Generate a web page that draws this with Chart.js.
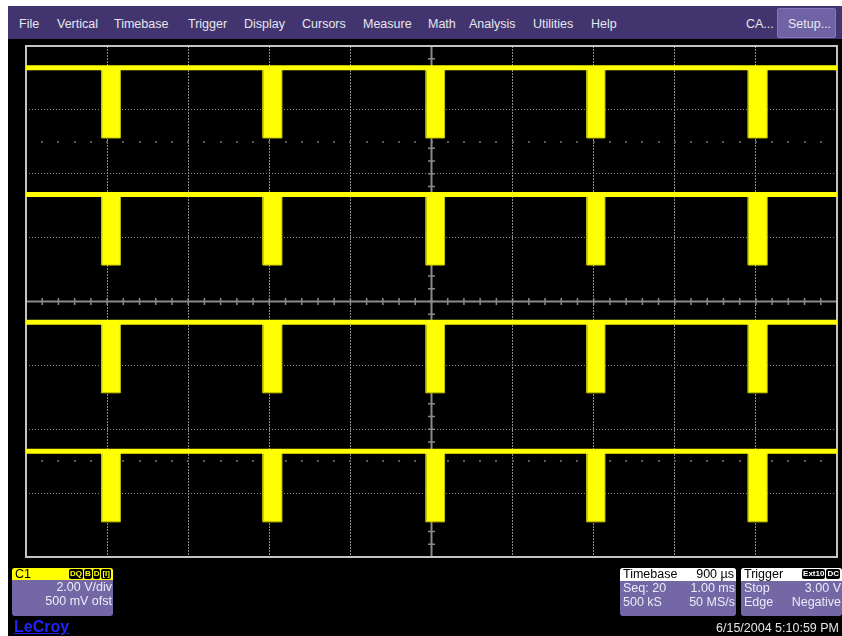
<!DOCTYPE html>
<html>
<head>
<meta charset="utf-8">
<script src="https://cdn.jsdelivr.net/npm/chart.js@4.4.1/dist/chart.umd.min.js"></script>
<style>
html,body{margin:0;padding:0;background:#fff;}
body{width:842px;height:636px;position:relative;overflow:hidden;font-family:"Liberation Sans",Arial,sans-serif;}
#screen{position:absolute;left:8px;top:6px;width:834px;height:630px;background:#000;}
#menu{position:absolute;left:8px;top:6px;width:834px;height:33px;background:#42346f;}
.mi{position:absolute;top:17px;font-size:12.5px;line-height:14px;color:#e6e6ee;white-space:nowrap;}
#setup{position:absolute;left:777px;top:8px;width:59px;height:30px;background:#6f63a5;border:1px solid #8478b8;box-sizing:border-box;border-radius:2px;}
#scope{position:absolute;left:8px;top:39px;}
.box{position:absolute;top:568px;height:48px;background:#7367a6;border-radius:3px;overflow:hidden;font-size:12.5px;}
.hdr{height:13px;line-height:13px;display:flex;justify-content:space-between;padding:0 2px 0 3px;color:#000;}
.row{height:12.5px;line-height:13px;display:flex;justify-content:space-between;padding:0 1px 0 3px;color:#ecebf6;}
.ic{display:inline-block;background:#000;border-radius:2px;font-size:8px;line-height:10px;height:10px;padding:0 1px;margin-left:1px;vertical-align:top;margin-top:1px;font-weight:bold;}
</style>
</head>
<body>
<div id="screen"></div>
<div id="menu"></div>
<span class="mi" style="left:19px">File</span>
<span class="mi" style="left:57px">Vertical</span>
<span class="mi" style="left:114px">Timebase</span>
<span class="mi" style="left:188px">Trigger</span>
<span class="mi" style="left:244px">Display</span>
<span class="mi" style="left:302px">Cursors</span>
<span class="mi" style="left:363px">Measure</span>
<span class="mi" style="left:428px">Math</span>
<span class="mi" style="left:469px">Analysis</span>
<span class="mi" style="left:533px">Utilities</span>
<span class="mi" style="left:591px">Help</span>
<span class="mi" style="left:746px">CA...</span>
<div id="setup"></div>
<span class="mi" style="left:788px">Setup...</span>

<canvas id="scope" width="834" height="597"></canvas>

<div class="box" style="left:12px;width:101px;">
  <div class="hdr" style="background:#ffff00;height:12px;line-height:12px;"><span>C1</span><span><span class="ic" style="color:#ffff00">DQ</span><span class="ic" style="color:#ffff00">B</span><span class="ic" style="color:#ffff00">D</span><span class="ic" style="color:#ffff00">[I]</span></span></div>
  <div class="row" style="justify-content:flex-end;margin-top:1px;"><span>2.00 V/div</span></div>
  <div class="row" style="justify-content:flex-end;margin-top:1px;"><span>500 mV ofst</span></div>
</div>
<div style="position:absolute;left:14px;top:618px;font-size:16px;font-weight:bold;color:#2323ff;text-decoration:underline;">LeCroy</div>

<div class="box" style="left:620px;width:116px;">
  <div class="hdr" style="background:#fff;"><span>Timebase</span><span>900 µs</span></div>
  <div class="row" style="margin-top:1px;"><span>Seq: 20</span><span>1.00 ms</span></div>
  <div class="row" style="margin-top:1px;"><span>500 kS</span><span>50 MS/s</span></div>
</div>
<div class="box" style="left:741px;width:101px;">
  <div class="hdr" style="background:#fff;"><span>Trigger</span><span><span class="ic" style="color:#fff">Ext10</span><span class="ic" style="color:#fff">DC</span></span></div>
  <div class="row" style="margin-top:1px;"><span>Stop</span><span>3.00 V</span></div>
  <div class="row" style="margin-top:1px;"><span>Edge</span><span>Negative</span></div>
</div>
<div style="position:absolute;left:716px;top:621px;font-size:12.5px;color:#e4e4e4;">6/15/2004 5:10:59 PM</div>

<script>
// timebase 900 us/div, 10 divisions ; 2.00 V/div, 8 divisions
var timeMax = 9000;
var divTime = 900;
var voltsMin = -8, voltsMax = 8, divVolts = 2;

// pulse edges (us), same in every displayed segment
var pulseStart = [840, 2630, 4440, 6225, 8015];
var pulseEnd   = [1047, 2840, 4645, 6425, 8225];

// four sequence segments: baseline level and bottom of the pulses (V)
var traceHigh = [7.32, 3.35, -0.65, -4.69];
var traceLow  = [5.12, 1.14, -2.86, -6.90];

var TRACE = '#ffff00';

function pulsePoints(hi, lo){
  var pts = [{x: 0, y: hi}];
  for (var i = 0; i < pulseStart.length; i++) {
    pts.push({x: pulseStart[i], y: hi});
    pts.push({x: pulseStart[i], y: lo});
    pts.push({x: pulseEnd[i], y: lo});
    pts.push({x: pulseEnd[i], y: hi});
  }
  pts.push({x: timeMax, y: hi});
  return pts;
}

var datasets = [];
traceHigh.forEach(function(hi, i){
  datasets.push({
    data: [{x: 0, y: hi}, {x: timeMax, y: hi}],
    borderColor: TRACE, borderWidth: 5, fill: false, order: 0
  });
  datasets.push({
    data: pulsePoints(hi, traceLow[i]),
    borderColor: '#c4c400', borderWidth: 1,
    backgroundColor: TRACE, fill: {value: hi}, order: 1
  });
});

// frame, centre axes with 1/5 division ticks, minor dot rows
var graticule = {
  id: 'graticule',
  beforeDatasetsDraw: function(chart){
    var c = chart.ctx, a = chart.chartArea;
    var xs = chart.scales.x, ys = chart.scales.y;
    var cx = xs.getPixelForValue(timeMax / 2), cy = ys.getPixelForValue(0);
    c.save();
    c.fillStyle = '#5a5a5a';
    [5, -5].forEach(function(v){
      var py = ys.getPixelForValue(v);
      for (var t = 0; t <= timeMax; t += divTime / 5) {
        c.fillRect(Math.round(xs.getPixelForValue(t)) - 1, Math.round(py) - 1, 2, 2);
      }
    });
    c.strokeStyle = '#8a8a8a';
    c.lineWidth = 2;
    c.beginPath();
    c.moveTo(a.left, cy); c.lineTo(a.right, cy);
    c.moveTo(cx, a.top); c.lineTo(cx, a.bottom);
    c.stroke();
    c.lineWidth = 1.5;
    c.beginPath();
    for (var t = 0; t <= timeMax; t += divTime / 5) {
      var px = xs.getPixelForValue(t);
      c.moveTo(px, cy - 3.5); c.lineTo(px, cy + 3.5);
    }
    for (var v = voltsMin; v <= voltsMax; v += divVolts / 5) {
      var py = ys.getPixelForValue(v);
      c.moveTo(cx - 3.5, py); c.lineTo(cx + 3.5, py);
    }
    c.stroke();
    c.strokeStyle = '#c4c4c4';
    c.lineWidth = 2;
    c.strokeRect(a.left, a.top, a.right - a.left, a.bottom - a.top);
    c.restore();
  }
};

new Chart(document.getElementById('scope'), {
  type: 'line',
  data: {datasets: datasets},
  options: {
    responsive: false,
    animation: false,
    devicePixelRatio: 1,
    layout: {padding: {left: 18, top: 7, right: 5, bottom: 79}},
    elements: {point: {radius: 0}, line: {tension: 0}},
    plugins: {legend: {display: false}, tooltip: {enabled: false}},
    scales: {
      x: {
        type: 'linear', min: 0, max: timeMax,
        ticks: {display: false, stepSize: divTime},
        grid: {color: '#8a8a8a', lineWidth: 1, drawTicks: false},
        border: {display: false, dash: [2, 1]}
      },
      y: {
        type: 'linear', min: voltsMin, max: voltsMax,
        ticks: {display: false, stepSize: divVolts},
        grid: {color: '#8a8a8a', lineWidth: 1, drawTicks: false},
        border: {display: false, dash: [1, 2]}
      }
    }
  },
  plugins: [graticule]
});
</script>
</body>
</html>
